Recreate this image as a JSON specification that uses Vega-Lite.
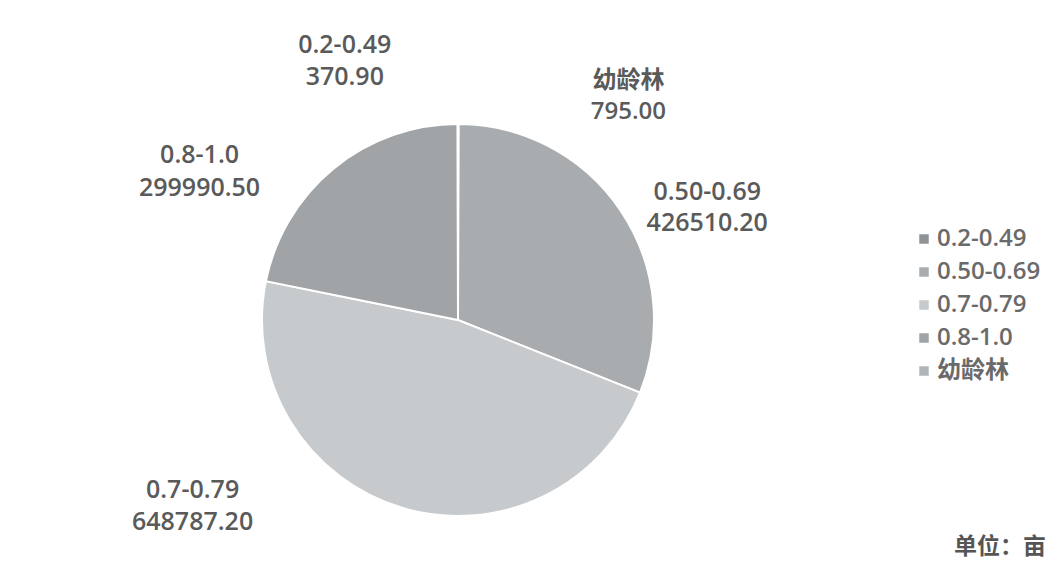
{
  "$schema": "https://vega.github.io/schema/vega-lite/v6.json",
  "width": 916,
  "height": 488,
  "autosize": {"type": "none"},
  "padding": {"left": 0, "top": 76, "right": 141, "bottom": 0},
  "background": "#ffffff",
  "title": {
    "text": "单位：亩",
    "orient": "bottom",
    "anchor": "end",
    "frame": "group",
    "offset": 0,
    "dx": 130,
    "dy": -65,
    "fontSize": 23,
    "fontWeight": 600,
    "font": "Noto Sans CJK SC",
    "color": "#555555"
  },
  "data": {
    "values": [
      {"category": "幼龄林", "value": 795.00},
      {"category": "0.50-0.69", "value": 426510.20},
      {"category": "0.7-0.79", "value": 648787.20},
      {"category": "0.8-1.0", "value": 299990.50},
      {"category": "0.2-0.49", "value": 370.90}
    ]
  },
  "transform": [
    {"window": [{"op": "row_number", "as": "rank"}]},
    {"calculate": "datum.category + '\\n' + format(datum.value, '.2f')", "as": "label"}
  ],
  "encoding": {
    "theta": {"field": "value", "type": "quantitative", "stack": true},
    "order": {"field": "rank", "type": "quantitative"},
    "color": {
      "field": "category",
      "type": "nominal",
      "scale": {
        "domain": ["0.2-0.49", "0.50-0.69", "0.7-0.79", "0.8-1.0", "幼龄林"],
        "range": ["#8f9396", "#a8acaf", "#c6cacd", "#a0a4a7", "#b2b5b8"]
      },
      "legend": {
        "title": null,
        "orient": "none",
        "legendX": 912,
        "legendY": 151,
        "symbolType": "square",
        "symbolSize": 90,
        "symbolStrokeWidth": 0,
        "labelFontSize": 24,
        "labelFontWeight": 600,
        "labelFont": "Open Sans, Noto Sans CJK SC",
        "labelColor": "#6a6a6a",
        "labelOffset": 1,
        "rowPadding": 9
      }
    }
  },
  "layer": [
    {
      "mark": {"type": "arc", "outerRadius": 196, "stroke": "#ffffff", "strokeWidth": 2}
    },
    {
      "mark": {"type": "text", "radius": 250, "dx": -113, "dy": -25, "align": "center", "baseline": "middle", "lineBreak": "\n", "lineHeight": 32, "fontSize": 25, "fontWeight": 600, "font": "Open Sans, Noto Sans CJK SC"},
      "encoding": {"text": {"condition": {"test": "datum.category == '0.2-0.49'", "field": "label"}, "value": ""}, "color": {"value": "#5a5a5a"}}
    },
    {
      "mark": {"type": "text", "radius": 250, "dx": 170, "dy": 11, "align": "center", "baseline": "middle", "lineBreak": "\n", "lineHeight": 31, "fontSize": 24, "fontWeight": 600, "font": "Open Sans, Noto Sans CJK SC"},
      "encoding": {"text": {"condition": {"test": "datum.category == '幼龄林'", "field": "label"}, "value": ""}, "color": {"value": "#5a5a5a"}}
    },
    {
      "mark": {"type": "text", "radius": 250, "dx": 42, "dy": 12, "align": "center", "baseline": "middle", "lineBreak": "\n", "lineHeight": 31, "fontSize": 25, "fontWeight": 600, "font": "Open Sans, Noto Sans CJK SC"},
      "encoding": {"text": {"condition": {"test": "datum.category == '0.50-0.69'", "field": "label"}, "value": ""}, "color": {"value": "#5a5a5a"}}
    },
    {
      "mark": {"type": "text", "radius": 250, "dx": -194, "dy": -70, "align": "center", "baseline": "middle", "lineBreak": "\n", "lineHeight": 32, "fontSize": 25, "fontWeight": 600, "font": "Open Sans, Noto Sans CJK SC"},
      "encoding": {"text": {"condition": {"test": "datum.category == '0.7-0.79'", "field": "label"}, "value": ""}, "color": {"value": "#5a5a5a"}}
    },
    {
      "mark": {"type": "text", "radius": 250, "dx": -100, "dy": 28, "align": "center", "baseline": "middle", "lineBreak": "\n", "lineHeight": 33, "fontSize": 25, "fontWeight": 600, "font": "Open Sans, Noto Sans CJK SC"},
      "encoding": {"text": {"condition": {"test": "datum.category == '0.8-1.0'", "field": "label"}, "value": ""}, "color": {"value": "#5a5a5a"}}
    }
  ],
  "config": {"view": {"stroke": null}}
}
